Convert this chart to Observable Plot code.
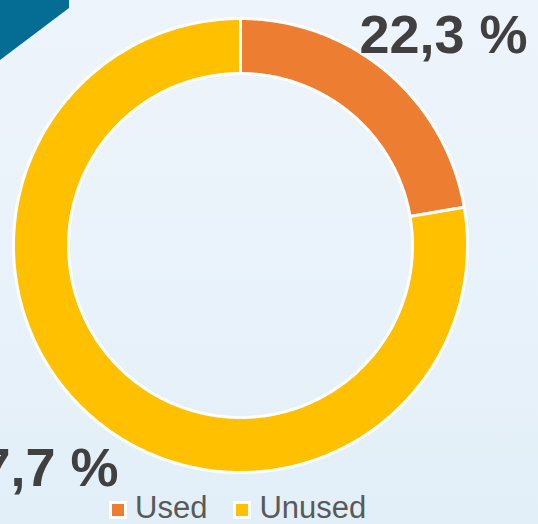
<!DOCTYPE html>
<html>
<head>
<meta charset="utf-8">
<script src="https://cdn.jsdelivr.net/npm/d3@7"></script>
<script src="https://cdn.jsdelivr.net/npm/@observablehq/plot@0.6"></script>
<style>
  html, body { margin: 0; padding: 0; }
  body { width: 538px; height: 524px; overflow: hidden;
         background: linear-gradient(to bottom, #eef4fb 0%, #e8f2fa 60%, #e2eff8 100%); }
  #wrap { position: relative; width: 538px; height: 524px; }
  #corner { position: absolute; left: 0; top: 0; width: 70px; height: 61px; background: #056d94;
            clip-path: polygon(0 0, 69px 0, 69px 8px, 0 60px); }
  #chart { position: absolute; left: 0; top: 0; }
  #legend { position: absolute; left: 109px; top: 492px; display: flex; align-items: center;
            font-family: "Liberation Sans", Arial, sans-serif; font-size: 31px; line-height: 31px; color: #595959; }
  .item { display: flex; align-items: center; margin-right: 26px; }
  .sw { display: inline-block; width: 12px; height: 12px; border: 3px solid #ffffff; margin-right: 8px; position: relative; top: 2px; }
</style>
</head>
<body>
<div id="wrap">
  <div id="corner"></div>
  <div id="chart"></div>
  <div id="legend"></div>
</div>
<script>
const categories = ["Used", "Unused"];
const values = [22.3, 77.7];
const labels = ["22,3 %", "77,7 %"];
const colors = ["#ED7D31", "#FFC000"];

const data = categories.map((c, i) => ({name: c, value: values[i], label: labels[i]}));
const pie = d3.pie().sort(null).value(d => d.value)(data);
const inner = 172 / 227;
const pts = [];
for (const s of pie) {
  const n = Math.max(2, Math.ceil((s.endAngle - s.startAngle) / (Math.PI / 360)));
  for (let k = 0; k <= n; k++) {
    const a = s.startAngle + (s.endAngle - s.startAngle) * k / n;
    pts.push({name: s.data.name, x: Math.sin(a), y: Math.cos(a)});
  }
  for (let k = n; k >= 0; k--) {
    const a = s.startAngle + (s.endAngle - s.startAngle) * k / n;
    pts.push({name: s.data.name, x: inner * Math.sin(a), y: inner * Math.cos(a)});
  }
}

const plot = Plot.plot({
  width: 538,
  height: 524,
  margin: 0,
  style: {background: "transparent", overflow: "visible"},
  x: {domain: [-1, 1], range: [13, 467], axis: null},
  y: {domain: [-1, 1], range: [472, 18], axis: null},
  color: {domain: categories, range: colors},
  marks: [
    Plot.line(pts, {x: "x", y: "y", z: "name", fill: "name", stroke: "#ffffff", strokeWidth: 3, curve: "linear-closed"}),
    Plot.text([data[0]], {text: "label", frameAnchor: "top-right", textAnchor: "end", lineAnchor: "top", dx: -11, dy: 14,
      fontSize: 54, fontWeight: "bold", fontFamily: "Liberation Sans, Arial, sans-serif", fill: "#404040"}),
    Plot.text([data[1]], {text: "label", frameAnchor: "bottom-left", textAnchor: "end", lineAnchor: "top", dx: 118, dy: -77,
      fontSize: 54, fontWeight: "bold", fontFamily: "Liberation Sans, Arial, sans-serif", fill: "#404040"})
  ]
});
document.getElementById("chart").appendChild(plot);

const legend = document.getElementById("legend");
categories.forEach((c, i) => {
  const item = document.createElement("div");
  item.className = "item";
  const sw = document.createElement("span");
  sw.className = "sw";
  sw.style.background = colors[i];
  const t = document.createElement("span");
  t.textContent = c;
  item.appendChild(sw);
  item.appendChild(t);
  legend.appendChild(item);
});
</script>
</body>
</html>
